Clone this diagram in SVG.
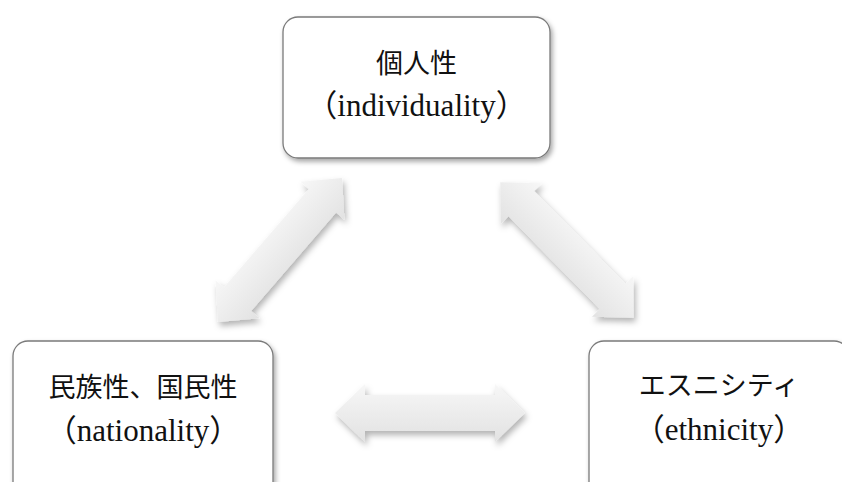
<svg xmlns="http://www.w3.org/2000/svg" xmlns:xlink="http://www.w3.org/1999/xlink" width="842" height="482" viewBox="0 0 842 482">
  <style>
    .box { fill: #ffffff; stroke: #7a7a7a; stroke-width: 1.3; }
    .jp { font-family: "Liberation Serif", "Noto Sans CJK JP", serif; font-size: 27px; fill: #111; text-anchor: middle; }
    .en { font-family: "Liberation Serif", "Noto Sans CJK JP", serif; font-size: 31px; fill: #111; text-anchor: middle; }
    .arrow { fill: url(#arrowGrad); }
  </style>
  <defs>
    <linearGradient id="arrowGrad" x1="0" y1="0" x2="0" y2="1">
      <stop offset="0" stop-color="#f7f7f7"/>
      <stop offset="1" stop-color="#e2e2e2"/>
    </linearGradient>
    <filter id="shadow" x="-20%" y="-20%" width="140%" height="140%">
      <feDropShadow dx="2" dy="3" stdDeviation="2.5" flood-color="#000" flood-opacity="0.35"/>
    </filter>
    <filter id="ashadow" x="-20%" y="-20%" width="140%" height="140%">
      <feDropShadow dx="2" dy="4" stdDeviation="3" flood-color="#000" flood-opacity="0.3"/>
    </filter>
    <path id="dblArrow" d="M-95,0 L-65,-29 L-65,-18 L65,-18 L65,-29 L95,0 L65,29 L65,18 L-65,18 L-65,29 Z"/>
  </defs>

  <g id="connectors">
    <g filter="url(#ashadow)">
      <use xlink:href="#dblArrow" class="arrow" transform="translate(280,250) rotate(-49.2)"/>
    </g>
    <g filter="url(#ashadow)">
      <use xlink:href="#dblArrow" class="arrow" transform="translate(567,250) rotate(45.4)"/>
    </g>
    <g filter="url(#ashadow)">
      <use xlink:href="#dblArrow" class="arrow" transform="translate(430,413)"/>
    </g>
  </g>

  <g id="node-individuality">
    <rect class="box" x="283" y="17" width="267" height="141" rx="15" ry="15" filter="url(#shadow)"/>
    <text class="jp" x="416.5" y="73">個人性</text>
    <text class="en" x="416.5" y="116">（individuality）</text>
  </g>

  <g id="node-nationality">
    <rect class="box" x="13" y="341" width="260" height="160" rx="15" ry="15" filter="url(#shadow)"/>
    <text class="jp" x="143" y="397">民族性、国民性</text>
    <text class="en" x="143" y="441">（nationality）</text>
  </g>

  <g id="node-ethnicity">
    <rect class="box" x="589" y="341" width="260" height="160" rx="15" ry="15" filter="url(#shadow)"/>
    <text class="jp" x="719" y="395">エスニシティ</text>
    <text class="en" x="719" y="440">（ethnicity）</text>
  </g>
</svg>
